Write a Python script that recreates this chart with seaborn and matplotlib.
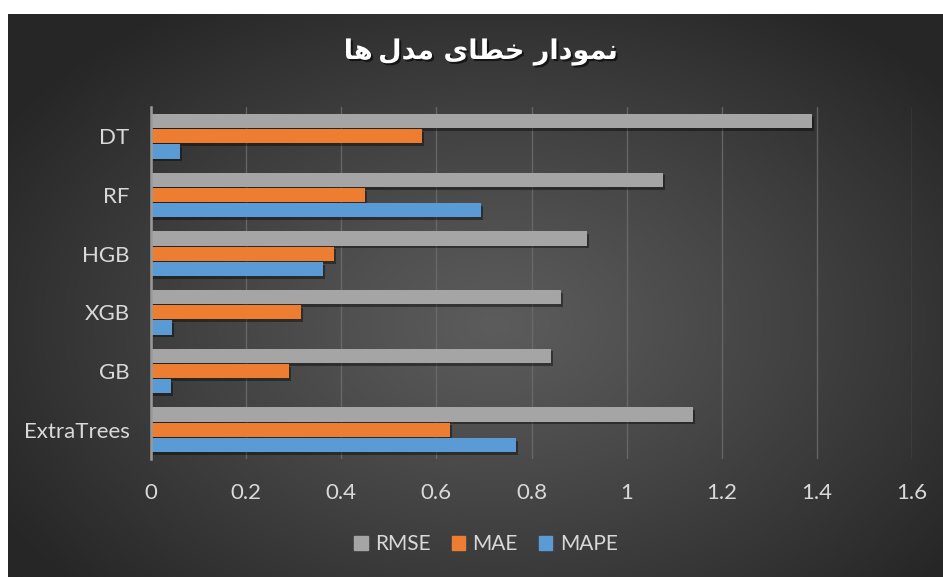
import numpy as np
import pandas as pd
import matplotlib
matplotlib.use("Agg")
import matplotlib.pyplot as plt
import matplotlib.patheffects as pe
import seaborn as sns

# ---------------- data ----------------
models = ["DT", "RF", "HGB", "XGB", "GB", "ExtraTrees"]
rmse = [1.39, 1.077, 0.917, 0.862, 0.841, 1.14]
mae = [0.570, 0.450, 0.385, 0.315, 0.290, 0.629]
mape = [0.061, 0.694, 0.362, 0.044, 0.042, 0.767]
metrics = ["RMSE", "MAE", "MAPE"]
x_ticks = [0, 0.2, 0.4, 0.6, 0.8, 1.0, 1.2, 1.4, 1.6]
x_tick_labels = ["0", "0.2", "0.4", "0.6", "0.8", "1", "1.2", "1.4", "1.6"]
title_text = "نمودار خطای مدل\u200cها"

colors = {"RMSE": "#a5a5a5", "MAE": "#ed7d31", "MAPE": "#5b9bd5"}

# ------------- minimal Arabic/Persian shaping for matplotlib -------------
FORMS = {  # isolated, final, initial, medial
    "ن": ("\uFEE5", "\uFEE6", "\uFEE7", "\uFEE8"),
    "م": ("\uFEE1", "\uFEE2", "\uFEE3", "\uFEE4"),
    "و": ("\uFEED", "\uFEEE", None, None),
    "د": ("\uFEA9", "\uFEAA", None, None),
    "ا": ("\uFE8D", "\uFE8E", None, None),
    "ر": ("\uFEAD", "\uFEAE", None, None),
    "خ": ("\uFEA5", "\uFEA6", "\uFEA7", "\uFEA8"),
    "ط": ("\uFEC1", "\uFEC2", "\uFEC3", "\uFEC4"),
    "ی": ("\uFEEF", "\uFEF0", "\uFEF3", "\uFEF4"),
    "ل": ("\uFEDD", "\uFEDE", "\uFEDF", "\uFEE0"),
    "ه": ("\uFEE9", "\uFEEA", "\uFEEB", "\uFEEC"),
}


def shape(text):
    out = []
    n = len(text)
    for i, ch in enumerate(text):
        if ch == "\u200c":
            out.append("\u2009")
            continue
        if ch not in FORMS:
            out.append(ch)
            continue
        f = FORMS[ch]
        prev = text[i - 1] if i > 0 else None
        nxt = text[i + 1] if i + 1 < n else None
        jp = prev in FORMS and FORMS[prev][2] is not None
        jn = nxt in FORMS and f[2] is not None
        if jp and jn:
            out.append(f[3])
        elif jp:
            out.append(f[1])
        elif jn:
            out.append(f[2])
        else:
            out.append(f[0])
    return "".join(reversed(out))


# ---------------- figure ----------------
sns.set_theme(style="dark")
plt.rcParams["font.family"] = ["Lato", "DejaVu Sans"]

W, H = 943, 577
fig = plt.figure(figsize=(W / 100, H / 100), dpi=100, facecolor="white")

# background with radial gradient
bg = fig.add_axes([8 / W, 0, 1 - 8 / W, 1 - 14 / H])
bg.set_axis_off()
gh, gw = 300, 500
yy, xx = np.mgrid[0:gh, 0:gw]
cx, cy = 0.52 * gw, 0.55 * gh
d = np.sqrt(((xx - cx) / (0.62 * gw)) ** 2 + ((yy - cy) / (0.68 * gh)) ** 2)
d = np.clip(d, 0, 1) ** 1.1
c_in = np.array([0x5c, 0x5c, 0x5c]) / 255
c_out = np.array([0x26, 0x26, 0x26]) / 255
img = c_in[None, None, :] * (1 - d[..., None]) + c_out[None, None, :] * d[..., None]
bg.imshow(img, aspect="auto", extent=[0, 1, 0, 1], origin="upper")
bg.set_xlim(0, 1)
bg.set_ylim(0, 1)

ax = fig.add_axes([151 / W, 1 - 459 / H, (912 - 151) / W, (459 - 107) / H])
ax.set_facecolor("none")

df = pd.DataFrame({"model": models, "RMSE": rmse, "MAE": mae, "MAPE": mape})
long = df.melt(id_vars="model", value_vars=metrics, var_name="metric", value_name="value")

sns.barplot(data=long, y="model", x="value", hue="metric", order=models,
            hue_order=metrics, palette=colors, orient="h", width=0.78, gap=0.07,
            saturation=1, edgecolor="none", linewidth=0, ax=ax, legend=False, zorder=3)

for p in ax.patches:
    p.set_path_effects([pe.SimplePatchShadow(offset=(1.5, -2), shadow_rgbFace="black", alpha=0.4),
                        pe.Normal()])

ax.set_xlim(0, 1.6)
ax.set_ylim(5.5, -0.5)
ax.set_xticks(x_ticks)
ax.set_xticklabels(x_tick_labels)
ax.xaxis.grid(True, color="#6e6e6e", linewidth=1, alpha=0.8)
ax.yaxis.grid(False)
ax.set_axisbelow(True)
for s in ["top", "right", "bottom"]:
    ax.spines[s].set_visible(False)
ax.spines["left"].set_color("#9a9a9a")
ax.spines["left"].set_linewidth(1.8)
ax.spines["left"].set_zorder(4)
ax.tick_params(axis="x", length=0, pad=17, labelsize=16, labelcolor="#d9d9d9")
ax.tick_params(axis="y", length=0, pad=15.5, labelsize=16, labelcolor="#d9d9d9")
ax.set_xlabel("")
ax.set_ylabel("")

fig.text(481 / W, 1 - 52 / H, shape(title_text), ha="center", va="center",
         color="white", fontsize=19.5, fontweight="bold", family=["DejaVu Sans"],
         path_effects=[pe.withSimplePatchShadow(offset=(1.5, -1.5), shadow_rgbFace="black", alpha=0.6)])

handles = [plt.Rectangle((0, 0), 1, 1, color=colors[m]) for m in metrics]
leg = fig.legend(handles, metrics, loc="center", bbox_to_anchor=(486 / W, 1 - 544 / H),
                 ncol=3, frameon=False, handlelength=0.65, handleheight=0.65,
                 handletextpad=0.35, columnspacing=1.0, fontsize=15)
for t in leg.get_texts():
    t.set_color("#d9d9d9")

fig.savefig("out.png", dpi=100, facecolor="white")
